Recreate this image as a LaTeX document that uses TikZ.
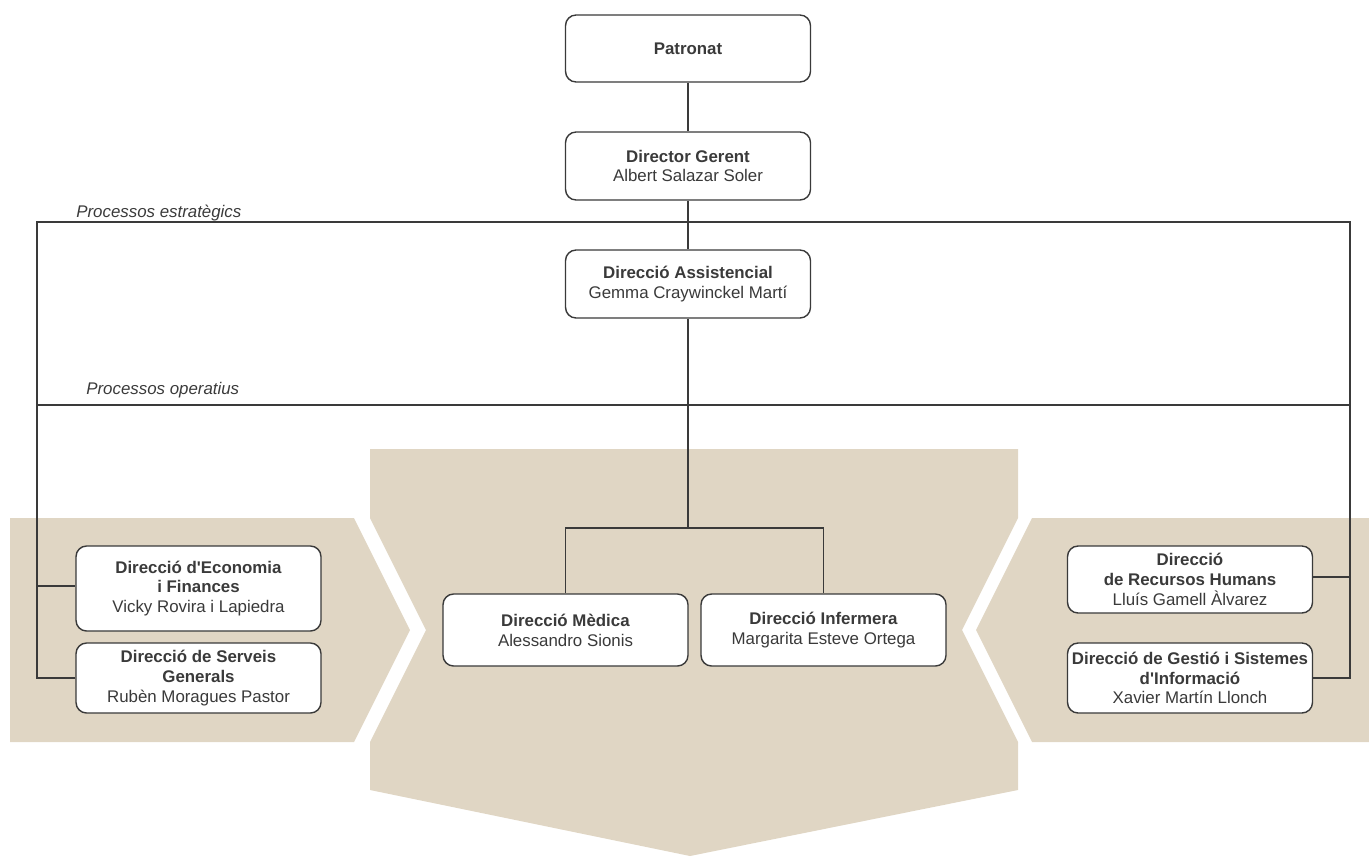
\documentclass[tikz,border=0pt]{standalone}
\usepackage{fontspec}
\setmainfont{Liberation Sans}
\usepackage{tikz}
\definecolor{sand}{RGB}{224,214,196}
\definecolor{ink}{RGB}{58,58,58}

\begin{document}
\begin{tikzpicture}[x=0.02cm, y=-0.02cm,
        box/.style={draw=ink, fill=white, rounded corners=6pt, line width=0.8pt,
            minimum width=4.9cm, align=center, inner sep=1pt, text=ink,
            font=\fontsize{9.6}{11.3}\selectfont},
        lbl/.style={text=ink, inner sep=0pt, font=\fontsize{9.6}{11.3}\selectfont\itshape},
        link/.style={draw=ink, line width=0.9pt}]
    \useasboundingbox (0,0) rectangle (1369,856);
    % background arrows
    \fill[sand] (10,518) -- (354,518) -- (410,630) -- (354,742) -- (10,742) -- cycle;
    \fill[sand] (370,449) -- (1018,449) -- (1018,518) -- (962,630) -- (1018,742)
        -- (1018,790) -- (690,856) -- (370,790) -- (370,742) -- (426,630) -- (370,518) -- cycle;
    \fill[sand] (1369,518) -- (1032,518) -- (976,630) -- (1032,742) -- (1369,742) -- cycle;

    \node[box, minimum height=1.34cm] (patronat) at (688,48.5) {\textbf{Patronat}};
    \node[box, minimum height=1.36cm] (gerent) at (688,166) {\textbf{Director Gerent}\\Albert Salazar Soler};
    \node[box, minimum height=1.36cm] (assist) at (688,284) {\textbf{Direcció Assistencial}\\Gemma Craywinckel Martí};

    \node[box, minimum height=1.7cm] (economia) at (198.5,588.5) {\textbf{Direcció d\textquotesingle Economia}\\\textbf{i Finances}\\Vicky Rovira i Lapiedra};
    \node[box, minimum height=1.4cm] (serveis) at (198.5,678) {\textbf{Direcció de Serveis}\\\textbf{Generals}\\Rubèn Moragues Pastor};

    \node[box, minimum height=1.44cm] (medica) at (565.5,630) {\textbf{Direcció Mèdica}\\Alessandro Sionis};
    \node[box, minimum height=1.44cm] (infermera) at (823.5,630) {\textbf{Direcció Infermera}\\Margarita Esteve Ortega};

    \node[box, minimum height=1.34cm] (rrhh) at (1190,579.5) {\textbf{Direcció}\\\textbf{de Recursos Humans}\\Lluís Gamell Àlvarez};
    \node[box, minimum height=1.4cm, inner sep=0pt] (gestio) at (1190,678) {\textbf{Direcció de Gestió i Sistemes}\\\textbf{d\textquotesingle Informació}\\Xavier Martín Llonch};

    \node[lbl, anchor=base west] (estrat) at (76,217) {Processos estratègics};
    \node[lbl, anchor=base west] (operat) at (86,394) {Processos operatius};

    \coordinate (sl) at (37,222);
    \coordinate (sr) at (1350,222);
    \coordinate (ol) at (37,405);
    \coordinate (or) at (1350,405);
    \coordinate (econ) at (37,586);
    \coordinate (hum) at (1350,577);
    \coordinate (fork) at (688,528);

    % frame
    \draw[link] (serveis.west) -| (sl) -- (sr) |- (gestio.east);
    \draw[link] (ol) -- (or);
    \draw[link] (econ) -- (econ -| economia.west);
    \draw[link] (hum) -- (hum -| rrhh.east);

    % tree
    \draw[link] (patronat) -- (gerent);
    \draw[link] (gerent) -- (assist);
    \draw[link] (assist) -- (fork);
    \draw[link] (medica.north) |- (fork) -| (infermera.north);
\end{tikzpicture}
\end{document}
